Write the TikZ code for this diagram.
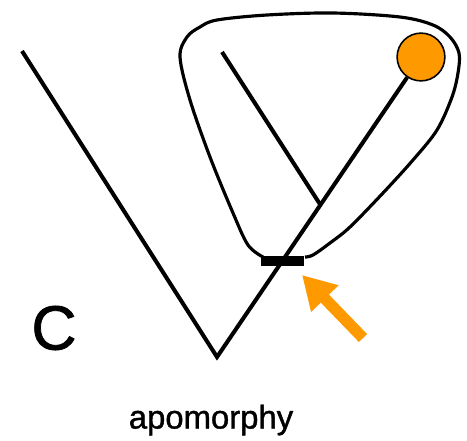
\documentclass[tikz,border=0pt]{standalone}
\usepackage{fontspec}
\setmainfont{Liberation Sans}
\newfontfamily\heavyfont[FakeBold=1.2]{Liberation Sans}
\usetikzlibrary{arrows.meta,calc}
\definecolor{apoorange}{RGB}{255,153,0}
\begin{document}
\begin{tikzpicture}[x=0.02cm,y=-0.02cm,line width=2.3pt,
 leaf/.style={circle,draw,line width=0.9pt,fill=apoorange,minimum size=27.2pt,inner sep=0pt},
 apobar/.style={fill=black,minimum width=24.4pt,minimum height=5.7pt,inner sep=0pt}]
\useasboundingbox (0,0) rectangle (467,440);
\coordinate (root) at (217,357);\coordinate (a) at (22,51);\coordinate (b) at (222,52);
\node[leaf] (c) at (421,57) {};
\coordinate (j) at ($(root)!0.507!(c)$);
\draw (a)--(root)--(c);\draw (b)--(j);
\node[apobar] (s) at ($(root)!0.32!(c)$) {};
% group outline
\draw[line width=1.8pt] plot[smooth,tension=0.55] coordinates {(263,257) (248,245) (233,213) (210,157) (190,100) (180,57) (187,37) (200,27) (217,20) (267,15) (333,13) (400,17) (433,25) (450,37) (459,53) (458,73) (452,97) (437,130) (413,160) (383,193) (350,227) (330,243) (313,255) (305,257)};
\coordinate (tail) at (363,338);\coordinate (tip) at (302,275);
\draw[apoorange,line width=6.5pt,-{Triangle[length=18.7pt,width=20.4pt]}] (tail)--(tip);
\node (lab) at (54,328) {\heavyfont\fontsize{35.6}{40}\selectfont C};
\node (apo) at (211,420) {\heavyfont\fontsize{18.7}{22}\selectfont apomorphy};
\end{tikzpicture}
\end{document}
